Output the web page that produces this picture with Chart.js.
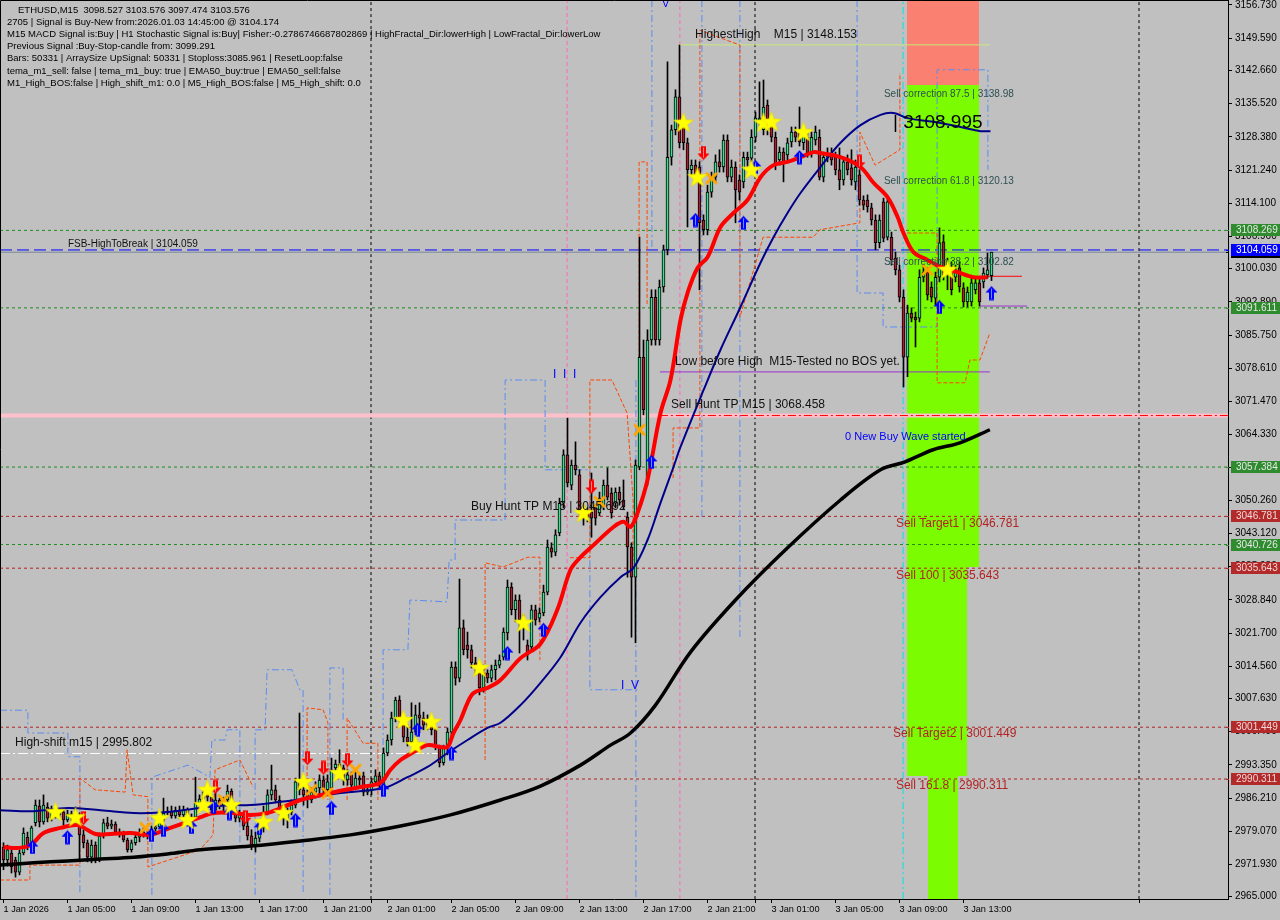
<!DOCTYPE html>
<html><head><meta charset="utf-8">
<script src="https://cdn.jsdelivr.net/npm/chart.js@4.4.1/dist/chart.umd.min.js"></script>
<style>html,body{margin:0;padding:0;background:#C0C0C0;overflow:hidden}canvas{display:block}</style>
</head><body>
<canvas id="c" width="1280" height="920"></canvas>
<script>
// ---------- DATA (ETHUSD M15, bar index 0 = 1 Jan 01:00) ----------
const openP=[
2975.7,2972.9,2974.4,2972.9,2970.3,2974.4,2977.8,2975.9,2980.9,2984.5,
2981.1,2984.3,2981.9,2983.6,2982.6,2983.2,2981.5,2982.8,2981.9,2982.4,
2978.3,2976.6,2973.5,2976.1,2972.9,2978.1,2980.9,2980.2,2980.6,2978.9,
2978.3,2977.2,2975.1,2976.6,2977.8,2978.9,2978.5,2978.1,2979.6,2980.0,
2981.5,2983.0,2983.4,2982.4,2983.6,2982.6,2983.6,2981.9,2982.1,2985.2,
2986.0,2987.3,2986.4,2983.6,2985.8,2984.7,2985.8,2987.7,2983.6,2981.9,
2982.8,2980.2,2978.1,2976.1,2977.6,2979.8,2983.2,2986.9,2988.0,2985.8,
2983.6,2981.9,2983.2,2984.7,2989.7,2988.0,2986.9,2985.8,2987.5,2988.4,
2990.1,2988.0,2988.4,2992.7,2993.5,2992.7,2990.1,2991.2,2988.6,2990.5,
2991.0,2987.5,2988.0,2989.7,2991.0,2988.8,2995.9,2998.7,3003.4,3007.3,
3003.4,2999.3,2998.3,3000.4,3004.1,3003.4,3001.9,3002.6,3000.9,2997.2,
2993.8,2997.0,3000.4,3014.4,3012.0,3022.8,3019.1,3018.1,3015.3,3013.1,
3009.9,3013.1,3012.0,3013.8,3014.8,3016.5,3021.7,3031.6,3026.7,3028.8,
3024.5,3019.1,3018.7,3026.7,3024.9,3026.0,3030.5,3040.0,3039.1,3043.2,
3049.6,3060.0,3053.5,3057.8,3055.7,3048.2,3047.5,3047.7,3048.6,3047.5,
3048.8,3053.5,3051.8,3049.6,3052.0,3050.3,3046.6,3040.2,3033.7,3057.4,
3081.0,3054.6,3084.7,3093.9,3084.7,3096.1,3104.1,3124.0,3129.9,3137.0,
3130.5,3127.1,3121.3,3122.3,3121.9,3110.5,3108.4,3116.5,3119.7,3123.0,
3121.9,3127.7,3119.7,3121.9,3119.1,3118.7,3124.0,3123.8,3128.3,3132.0,
3129.9,3135.2,3130.9,3128.3,3123.4,3125.1,3124.5,3127.3,3129.4,3129.2,
3127.1,3128.3,3124.9,3127.7,3128.3,3119.7,3124.0,3124.9,3124.0,3121.3,
3119.1,3123.0,3121.7,3118.7,3120.2,3114.8,3114.8,3113.1,3110.5,3105.6,
3114.4,3106.8,3106.8,3102.3,3099.8,3093.9,3081.0,3090.5,3089.6,3089.4,
3098.2,3099.3,3096.1,3093.7,3098.2,3105.8,3098.7,3100.2,3098.2,3100.2,
3095.9,3092.9,3092.9,3095.5,3097.0,3097.2,3098.7,3098.527];
const highP=[
2976.6,2976.1,2975.1,2973.5,2975.1,2979.8,2978.9,2980.2,2985.8,2985.8,
2986.9,2985.2,2984.5,2984.1,2983.9,2983.6,2983.6,2983.4,2984.3,2983.0,
2979.4,2977.2,2977.2,2976.8,2978.7,2981.7,2982.1,2981.5,2981.1,2979.6,
2979.1,2977.6,2977.2,2978.5,2979.6,2979.8,2979.4,2980.2,2980.6,2981.9,
2986.2,2984.3,2984.5,2984.3,2984.5,2984.5,2984.1,2982.8,2990.7,2986.9,
2988.4,2988.4,2986.9,2987.3,2986.2,2986.4,2989.0,2988.2,2984.7,2983.6,
2983.2,2981.5,2979.4,2978.9,2980.9,2984.5,2988.0,2993.3,2989.0,2986.7,
2984.7,2984.1,2985.8,2990.5,3004.5,2989.0,2988.0,2988.4,2989.7,2991.2,
2991.0,2991.2,2994.8,2994.4,2996.6,2993.3,2992.3,2991.8,2991.8,2991.2,
2991.8,2988.8,2990.5,2992.3,2991.8,2997.0,2999.8,3004.7,3007.9,3008.2,
3004.1,3002.1,3006.7,3006.2,3006.7,3004.7,3004.1,3003.4,3001.3,2997.6,
2997.6,3001.3,3015.5,3015.5,3033.3,3024.5,3021.9,3019.1,3016.5,3014.2,
3014.8,3013.8,3014.8,3015.9,3017.0,3022.8,3033.1,3032.5,3029.9,3029.9,
3025.6,3020.2,3027.7,3027.7,3027.1,3032.0,3041.7,3041.1,3043.9,3050.7,
3061.1,3067.9,3058.9,3062.8,3056.8,3049.2,3048.6,3056.1,3049.2,3052.0,
3054.6,3057.2,3052.9,3052.9,3053.1,3054.6,3047.7,3041.1,3058.9,3106.8,
3084.7,3086.9,3095.5,3095.5,3097.6,3105.1,3144.5,3130.9,3138.5,3148.1,
3132.0,3128.1,3123.4,3123.4,3123.0,3111.6,3118.0,3120.8,3124.5,3125.6,
3128.8,3128.8,3123.4,3123.0,3120.2,3125.1,3125.1,3129.9,3133.7,3140.2,
3140.6,3136.3,3132.4,3129.4,3126.2,3126.0,3128.1,3130.5,3130.5,3134.8,
3129.9,3129.2,3129.4,3130.7,3129.9,3125.1,3126.0,3126.0,3125.1,3126.0,
3124.0,3124.5,3125.6,3123.4,3121.3,3115.7,3115.9,3114.1,3111.6,3111.6,
3115.2,3115.2,3107.9,3103.6,3100.8,3095.5,3092.2,3091.6,3090.7,3099.8,
3100.8,3100.2,3097.2,3099.3,3108.8,3107.3,3102.3,3101.5,3100.8,3101.5,
3097.0,3096.1,3098.0,3098.0,3098.0,3100.2,3103.4,3103.576];
const lowP=[
2970.8,2971.6,2970.1,2969.2,2969.7,2974.0,2975.1,2975.3,2980.2,2980.0,
2980.6,2981.1,2981.3,2981.9,2981.9,2980.4,2981.1,2981.3,2981.5,2972.9,
2975.5,2972.5,2972.3,2972.3,2972.5,2977.6,2979.6,2979.6,2978.5,2977.8,
2976.8,2974.6,2974.6,2976.1,2976.8,2977.8,2977.4,2977.6,2979.1,2979.6,
2981.1,2982.6,2981.9,2981.9,2981.9,2982.1,2981.3,2981.3,2981.7,2984.5,
2984.3,2985.6,2982.8,2983.2,2983.9,2983.0,2985.2,2982.6,2981.1,2981.1,
2979.4,2977.2,2975.1,2974.6,2976.8,2978.9,2982.6,2985.8,2985.2,2982.6,
2980.4,2979.8,2982.6,2984.1,2986.9,2984.7,2984.1,2985.2,2986.2,2986.9,
2987.3,2986.9,2987.5,2991.8,2991.2,2989.0,2989.0,2988.0,2988.0,2989.0,
2986.7,2986.9,2986.9,2989.0,2988.0,2988.0,2995.3,2997.6,3002.6,3002.6,
2998.3,2997.4,2997.6,2999.8,3000.2,3000.9,3000.9,2999.8,2996.6,2992.9,
2993.3,2995.5,2999.3,3010.5,3011.2,3017.0,3016.3,3014.2,3012.7,3008.4,
3009.0,3011.0,3011.2,3011.6,3014.2,3015.9,3020.2,3025.6,3024.1,3017.4,
3020.2,3015.9,3018.1,3023.4,3024.1,3025.4,3029.9,3038.0,3038.3,3042.6,
3048.6,3053.1,3052.5,3055.7,3047.1,3044.9,3045.6,3042.3,3044.9,3046.9,
3048.2,3050.3,3046.4,3048.6,3049.2,3048.2,3033.7,3020.8,3019.6,3056.8,
3068.6,3053.5,3083.6,3083.6,3083.6,3095.0,3103.0,3122.3,3128.8,3126.0,
3125.6,3109.0,3120.2,3118.7,3095.5,3107.3,3107.3,3115.4,3118.7,3120.8,
3120.8,3118.7,3118.7,3109.9,3114.8,3117.4,3122.1,3123.0,3127.3,3130.9,
3128.8,3128.8,3127.3,3121.3,3122.3,3118.7,3123.4,3126.2,3127.3,3126.4,
3125.6,3124.0,3124.0,3126.6,3119.1,3118.7,3123.0,3122.3,3120.2,3117.0,
3118.0,3120.2,3118.0,3117.0,3113.7,3112.7,3112.2,3109.4,3104.1,3104.5,
3105.8,3106.2,3100.8,3098.7,3092.9,3074.6,3076.8,3088.6,3083.2,3088.6,
3097.2,3093.3,3092.9,3092.2,3097.2,3097.6,3095.5,3094.4,3097.2,3095.0,
3091.8,3091.8,3092.0,3094.6,3092.0,3095.9,3098.0,3097.474];
const closeP=[
2972.9,2975.1,2971.4,2970.3,2974.4,2978.7,2975.9,2979.8,2984.7,2981.1,
2984.7,2981.9,2983.6,2982.6,2983.2,2981.5,2982.8,2981.9,2982.6,2978.3,
2976.6,2973.5,2976.1,2972.9,2978.1,2980.9,2980.2,2980.6,2978.9,2978.3,
2977.2,2975.1,2976.6,2977.8,2978.9,2978.5,2978.1,2979.6,2980.0,2981.5,
2983.0,2983.4,2982.4,2983.6,2982.6,2983.6,2981.9,2982.1,2985.2,2986.0,
2987.5,2986.4,2983.6,2985.8,2984.7,2985.8,2987.7,2983.6,2981.9,2982.8,
2980.2,2978.1,2976.1,2977.6,2979.8,2983.2,2986.9,2988.0,2985.8,2983.6,
2981.9,2983.2,2984.7,2989.7,2988.0,2986.9,2985.8,2987.5,2988.4,2990.1,
2988.0,2989.7,2992.3,2993.5,2992.7,2990.1,2991.2,2989.0,2990.5,2990.1,
2987.5,2988.0,2989.7,2991.0,2989.0,2995.9,2998.7,3003.4,3007.3,3003.4,
2999.3,2998.3,3000.4,3004.1,3003.4,3001.9,3002.6,3000.9,2997.2,2993.8,
2997.0,3000.4,3014.4,3012.0,3022.8,3018.1,3018.1,3015.3,3014.2,3009.9,
3013.1,3012.0,3013.8,3014.8,3015.9,3021.9,3031.6,3026.7,3028.8,3024.5,
3023.4,3017.0,3026.7,3024.5,3026.0,3030.5,3040.2,3039.1,3042.8,3049.6,
3060.0,3054.0,3057.8,3056.8,3047.7,3046.4,3046.6,3046.4,3046.4,3050.7,
3053.5,3050.9,3047.5,3052.0,3050.3,3048.8,3040.2,3033.7,3057.8,3081.0,
3069.7,3084.7,3093.9,3084.7,3096.1,3104.1,3124.0,3129.9,3137.0,3127.1,
3127.1,3121.3,3122.3,3119.7,3109.9,3108.4,3116.5,3119.7,3123.0,3121.9,
3127.7,3119.7,3121.9,3117.0,3116.5,3124.0,3123.4,3128.3,3132.4,3132.4,
3134.8,3129.9,3128.3,3122.3,3125.1,3123.0,3127.1,3129.4,3128.3,3127.3,
3128.8,3124.9,3128.3,3129.4,3119.7,3124.0,3124.9,3123.4,3121.3,3119.1,
3123.0,3121.3,3119.1,3121.9,3114.8,3113.7,3113.3,3110.5,3105.6,3110.5,
3106.6,3114.4,3101.9,3099.8,3093.9,3081.0,3090.5,3089.4,3089.0,3098.2,
3099.3,3094.4,3093.9,3098.2,3105.6,3098.7,3100.8,3095.5,3099.8,3096.1,
3092.9,3095.0,3097.0,3097.0,3092.9,3099.1,3099.8,3103.576];

const timeTickIdx=[0,16,32,48,64,80,96,112,128,144,160,176,192,208,224,240];
const timeLabels=['1 Jan 2026','1 Jan 05:00','1 Jan 09:00','1 Jan 13:00','1 Jan 17:00','1 Jan 21:00',
 '2 Jan 01:00','2 Jan 05:00','2 Jan 09:00','2 Jan 13:00','2 Jan 17:00','2 Jan 21:00',
 '3 Jan 01:00','3 Jan 05:00','3 Jan 09:00','3 Jan 13:00'];
const priceTicks=[3156.730,3149.590,3142.660,3135.520,3128.380,3121.240,3114.100,3106.960,3100.030,
 3092.890,3085.750,3078.610,3071.470,3064.330,3057.190,3050.260,3043.120,3035.980,3028.840,3021.700,
 3014.560,3007.630,3000.490,2993.350,2986.210,2979.070,2971.930,2965.000];

// moving averages: [bar index, price]
const maFast=[[0,2975.7],[3.5,2975.5],[6.75,2976.1],[10,2978.7],[14.25,2979.8],[18.5,2980.4],[23,2978.5],[26.75,2978.5],[31.75,2978.7],[36.75,2978.3],[41,2979.6],[46,2981.1],[49.25,2982.1],[52.5,2983.0],[57.5,2983.0],[61.75,2982.6],[66.75,2983.2],[74.25,2985.8],[81.75,2987.3],[89.25,2988.6],[94.25,2989.5],[96.75,2992.3],[99.25,2994.4],[102.5,2996.1],[106,2997.6],[109.25,2997.2],[111,2997.2],[112.5,3000.2],[114.25,3003.0],[116,3006.7],[117.5,3008.8],[121,3009.9],[124.25,3011.6],[129.25,3016.3],[134.25,3019.4],[138.5,3026.8],[141.75,3035.3],[144.25,3038.0],[147.5,3040.6],[152.5,3044.5],[155,3045.6],[156.75,3044.5],[158.5,3047.5],[161,3054.6],[164.25,3069.0],[166.75,3076.1],[169.25,3089.0],[171,3094.8],[173.5,3100.2],[176,3102.5],[179.25,3109.0],[182.5,3112.0],[186,3114.8],[189.25,3119.7],[192.5,3122.3],[196,3123.0],[199.25,3124.0],[202.5,3125.1],[204.25,3124.9],[209.25,3124.0],[214.25,3121.9],[217.5,3118.5],[221,3115.4],[223.5,3111.2],[225,3107.7],[227.5,3103.6],[231,3101.9],[234.25,3100.4],[238.5,3099.3],[242.5,3098.2],[246,3098.2]];
const ma50=[[-0.875,2983.6],[7.5,2983.4],[16,2984.1],[24.25,2983.6],[32.5,2983.0],[36.75,2983.0],[41,2983.2],[49.25,2984.1],[57.5,2984.7],[61.75,2984.7],[69.25,2985.4],[76,2986.2],[84.25,2987.3],[92.5,2988.0],[96,2988.6],[101,2990.7],[106,2992.9],[111,2995.9],[116,2998.7],[121,3001.3],[124.25,3002.4],[129.25,3006.2],[134.25,3011.0],[139.25,3016.5],[144.25,3023.9],[149.25,3029.4],[154.25,3033.7],[157.5,3035.7],[161,3041.7],[164.25,3049.7],[167.5,3057.4],[169.25,3061.7],[175,3073.9],[179.25,3082.6],[184.25,3091.8],[189.25,3101.3],[192.5,3106.8],[196,3112.0],[199.25,3116.3],[204.25,3121.9],[209.25,3127.1],[214.25,3130.9],[219.25,3133.1],[222.5,3133.5],[226,3132.4],[232.5,3131.6],[239.25,3130.5],[244.25,3129.6],[246.75,3129.6]];
const ma200=[[-0.875,2971.8],[7.5,2972.3],[16,2972.7],[24.25,2973.1],[32.5,2973.5],[41,2974.2],[49.25,2975.1],[61.75,2975.9],[74.25,2977.0],[86.75,2978.3],[99.25,2980.2],[111.75,2982.6],[124.25,2985.8],[134.25,2988.8],[144.25,2993.3],[151.75,2997.6],[156.75,3000.2],[163,3006.2],[171.75,3017.6],[183,3028.8],[195.5,3039.6],[209.25,3050.3],[219.25,3056.8],[225.4,3058.5],[232.4,3061.1],[239.1,3062.6],[246.6,3065.4]];

// fractal channel step lines (segments) [bar index, price]
const blueSteps=[
 [[-0.875,3005.1],[6.1,3005.1],[6.1,3000.2],[16.1,3000.2],[16.1,2995.1],[19.1,2995.1],[19.1,2965.4]],
 [[37.1,2965.4],[37.1,2990.7],[46.1,2993.3],[51.6,2990.7],[52.1,2998.7],[55.4,2998.7],[55.9,3000.9],[59.1,3000.9],[59.1,2975.1]],
 [[62.9,2965.4],[62.9,3000.9],[65.4,3000.9],[65.9,3013.8],[72.1,3013.8],[74.1,3009.5],[74.9,3009.5],[74.9,2965.4]],
 [[81.6,2965.4],[81.6,3014.2],[84.9,3014.2],[84.9,3003.0]],
 [[94.9,2994.4],[94.9,3018.1],[101.1,3018.1],[101.6,3028.8],[110.9,3028.4],[111.4,3037.4],[112.9,3037.4],[112.9,3046.0],[125.4,3046.0],[125.4,3076.1],[135.4,3076.1],[135.4,3056.8],[146.6,3056.8],[146.6,3009.5],[159.1,3009.5]],
 [[158.1,3076.1],[158.1,2964.5]],
 [[162.1,3157.8],[162.1,3104.1]],
 [[174.6,3157.8],[174.6,3046.0]],
 [[184.1,3157.8],[184.1,3020.2]],
 [[213.4,3157.8],[213.4,3094.8],[219.9,3094.8],[219.9,3087.5],[233.4,3087.5],[233.4,3142.8],[246.1,3142.8],[246.1,3121.3]]];
const orangeSteps=[
 [[-0.875,2968.6],[6.6,2968.6],[6.6,2971.8],[19.1,2971.8],[19.1,2990.5],[22.9,2988.0],[30.4,2987.5],[30.9,2996.6],[32.4,2986.9],[36.1,2986.5],[36.1,2971.4],[49.1,2975.1],[52.4,2978.3],[52.9,2992.3],[59.1,2994.4],[62.4,2988.6]],
 [[75.9,2985.8],[75.9,3005.6],[79.9,3005.2],[81.1,3002.4],[81.1,2985.8]],
 [[85.9,2985.8],[85.9,3003.4],[89.9,2998.0],[93.6,2998.0],[93.6,2985.8]],
 [[120.4,2994.4],[120.4,3036.8],[124.9,3035.9],[131.1,3038.0],[134.1,3038.0],[134.1,3015.9]],
 [[141.6,3037.9],[146.6,3037.9],[146.6,3076.1],[152.1,3076.1],[155.9,3069.0],[157.4,3050.3],[157.4,3037.4]],
 [[158.9,3065.4],[158.9,3123.0],[160.9,3123.0],[160.9,3092.0]],
 [[167.4,3055.0],[167.4,3065.8],[174.1,3065.8],[174.1,3151.3],[184.1,3148.1],[184.1,3089.6],[189.9,3106.8],[202.4,3106.8],[204.1,3108.4],[214.1,3109.9],[214.1,3129.4],[217.9,3122.3],[224.1,3125.6],[224.1,3142.1]],
 [[225.9,3107.7],[233.4,3107.7],[233.4,3075.5],[240.4,3075.5],[241.6,3080.4],[244.1,3080.4],[246.6,3086.2]]];

// signal markers [bar index, price]
const starPts=[[13,2983.2],[18,2982.1],[39,2981.9],[46,2981.5],[50,2984.7],[51,2988.0],[57,2984.7],[65,2981.1],[70,2983.0],[75,2989.7],[84,2991.6],[100,3003.0],[103,2997.6],[107,3002.6],[119,3014.2],[130,3023.9],[145,3047.5],[170,3131.4],[173.5,3119.7],[187,3121.3],[190,3131.4],[192,3131.6],[200,3129.4],[236,3099.8]];
const upArrowPts=[[7.25,2975.7],[16,2977.8],[37,2978.3],[40,2979.4],[47,2980.0],[52.5,2984.3],[56.5,2983.0],[64,2979.8],[73,2981.5],[82,2984.1],[95,2988.0],[103.5,3000.9],[112,2995.9],[126,3017.4],[135,3022.4],[162,3058.5],[173,3110.5],[185,3109.9],[188,3121.9],[199,3124.0],[234,3091.8],[247,3094.8]];
const downArrowPts=[[20,2981.9],[53,2988.6],[60.5,2982.1],[76,2994.8],[80,2992.7],[86,2994.4],[147,3053.1],[175,3124.9],[214,3123.0]];
const crossPts=[[35.5,2979.8],[55,2985.8],[77,2988.0],[81,2987.3],[88,2992.3],[149,3049.9],[159,3065.4],[177,3119.5],[231,3099.8]];

// horizontal levels
const greenLevels=[3108.269,3091.611,3057.384,3040.726];
const redLevels=[3046.781,3035.643,3001.449,2990.311];
const fsbLevel=3104.059, bidLevel=3103.576, sellHuntLevel=3068.458, highShiftLevel=2995.802;
const lowBeforeHigh=3077.84, highestHigh=3148.153;
const daySeparators=[91.875,187.875,283.875];

// zones [x0,x1,p0,p1]
const salmonZone=[[225.9,243.9,3157.8,3139.5]];
const limeZones=[[225.9,243.9,3139.5,3035.9],[225.9,240.9,3035.9,2991.0],[231.1,238.6,2991.0,2964.5]];

const infoLines=['ETHUSD,M15  3098.527 3103.576 3097.474 3103.576',
'2705 | Signal is Buy-New from:2026.01.03 14:45:00 @ 3104.174',
'M15 MACD Signal is:Buy | H1 Stochastic Signal is:Buy| Fisher:-0.2786746687802869 | HighFractal_Dir:lowerHigh | LowFractal_Dir:lowerLow',
'Previous Signal :Buy-Stop-candle from: 3099.291',
'Bars: 50331 | ArraySize UpSignal: 50331 | Stoploss:3085.961 | ResetLoop:false',
'tema_m1_sell: false | tema_m1_buy: true | EMA50_buy:true | EMA50_sell:false',
'M1_High_BOS:false | High_shift_m1: 0.0 | M5_High_BOS:false | M5_High_shift: 0.0'];

const chartTexts=[
 {i:172.9,p:3150.3,t:'HighestHigh    M15 | 3148.153',c:'#111',s:12},
 {i:167.9,p:3080.0,t:'Low before High  M15-Tested no BOS yet.',c:'#111',s:12},
 {i:166.9,p:3070.7,t:'Sell Hunt TP M15 | 3068.458',c:'#111',s:12},
 {i:116.9,p:3048.8,t:'Buy Hunt TP M15 | 3045.692',c:'#111',s:12},
 {i:16.1,p:3105.3,t:'FSB-HighToBreak | 3104.059',c:'#111',s:10},
 {i:2.9,p:2998.1,t:'High-shift m15 | 2995.802',c:'#111',s:12},
 {i:220.1,p:3137.6,t:'Sell correction 87.5 | 3138.98',c:'#2F4F4F',s:10},
 {i:220.1,p:3118.9,t:'Sell correction 61.8 | 3120.13',c:'#2F4F4F',s:10},
 {i:220.1,p:3101.5,t:'Sell correction 38.2 | 3102.82',c:'#2F4F4F',s:10},
 {i:222.4,p:3131.4,t:'| 3108.995',c:'#000',s:19},
 {i:210.4,p:3063.8,t:'0 New Buy Wave started',c:'#0000FF',s:11},
 {i:223.1,p:3045.3,t:'Sell Target1 | 3046.781',c:'#B22222',s:12},
 {i:223.1,p:3034.0,t:'Sell 100 | 3035.643',c:'#B22222',s:12},
 {i:222.4,p:3000.0,t:'Sell Target2 | 3001.449',c:'#B22222',s:12},
 {i:223.1,p:2988.8,t:'Sell 161.8 | 2990.311',c:'#B22222',s:12},
 {i:137.4,p:3077.2,t:'I  I  I',c:'#0000FF',s:12},
 {i:154.4,p:3010.3,t:'I  V',c:'#0000FF',s:12},
 {i:164.6,p:3157.0,t:'V',c:'#0000FF',s:11}];

const axisBoxes=[
 {p:bidLevel,bg:'#000000',fg:'#FFFFFF'},
 {p:3108.269,bg:'#2E8B2E',fg:'#E8E8E8'},
 {p:fsbLevel,bg:'#0000FF',fg:'#FFFFFF'},
 {p:3091.611,bg:'#2E8B2E',fg:'#E8E8E8'},
 {p:3057.384,bg:'#2E8B2E',fg:'#E8E8E8'},
 {p:3046.781,bg:'#B22A2A',fg:'#F0D8D8'},
 {p:3040.726,bg:'#2E8B2E',fg:'#E8E8E8'},
 {p:3035.643,bg:'#B22A2A',fg:'#F0D8D8'},
 {p:3001.449,bg:'#B22A2A',fg:'#F0D8D8'},
 {p:2990.311,bg:'#B22A2A',fg:'#F0D8D8'}];

// ---------- marker images ----------
function mk(w,h,fn){const c=document.createElement('canvas');c.width=w;c.height=h;fn(c.getContext('2d'));return c;}
const starImg=mk(22,22,g=>{g.beginPath();for(let k=0;k<10;k++){const r=k%2?4.2:10.5,a=-Math.PI/2+k*Math.PI/5;g.lineTo(11+r*Math.cos(a),11.5+r*Math.sin(a));}g.closePath();g.fillStyle='#FFFF00';g.fill();g.strokeStyle='#E8D800';g.lineWidth=0.6;g.stroke();});
const upImg=mk(13,15,g=>{g.beginPath();g.moveTo(6.5,0.5);g.lineTo(12.5,7);g.lineTo(9,7);g.lineTo(9,14.5);g.lineTo(4,14.5);g.lineTo(4,7);g.lineTo(0.5,7);g.closePath();g.fillStyle='#0000FF';g.fill();g.strokeStyle='#6A8CFF';g.lineWidth=1;g.beginPath();g.moveTo(6.5,3);g.lineTo(6.5,13);g.stroke();});
const downImg=mk(13,15,g=>{g.beginPath();g.moveTo(6.5,14.5);g.lineTo(12.5,8);g.lineTo(9,8);g.lineTo(9,0.5);g.lineTo(4,0.5);g.lineTo(4,8);g.lineTo(0.5,8);g.closePath();g.fillStyle='#FF0000';g.fill();g.strokeStyle='#FF8080';g.lineWidth=1;g.beginPath();g.moveTo(6.5,2);g.lineTo(6.5,12);g.stroke();});
const crossImg=mk(13,13,g=>{g.strokeStyle='#FFA500';g.lineWidth=3;g.lineCap='round';g.beginPath();g.moveTo(2,2);g.lineTo(11,11);g.moveTo(11,2);g.lineTo(2,11);g.stroke();});

// ---------- datasets ----------
const N=closeP.length;
const idx=[...Array(N).keys()];
const wickData=idx.map(i=>({x:i,y:[lowP[i],highP[i]]}));
const bodyData=idx.map(i=>({x:i,y:[Math.min(openP[i],closeP[i]),Math.max(openP[i],closeP[i])]}));
const bodyColors=idx.map(i=>closeP[i]>=openP[i]?'#3EE08E':'#A8202E');
const pts=a=>a.map(([x,y])=>({x,y}));
const segs=s=>{const out=[];s.forEach((seg,k)=>{if(k)out.push({x:seg[0][0],y:null});seg.forEach(([x,y])=>out.push({x,y}));});return out;};
const X0=-0.875,X1=306.125;
const hLine=(p,color,dash,w,a,b,order)=>({type:'line',data:[{x:a??X0,y:p},{x:b??X1,y:p}],borderColor:color,borderDash:dash,borderWidth:w,pointRadius:0,order:order??60});
const vLine=(i,color,dash,w,p0,p1)=>({type:'line',data:[{x:i,y:p0??2964.5},{x:i,y:p1??3157.8}],borderColor:color,borderDash:dash,borderWidth:w,pointRadius:0,order:62});

const datasets=[];
greenLevels.forEach(p=>datasets.push(hLine(p,'#1E8C1E',[3,3],1)));
redLevels.forEach(p=>datasets.push(hLine(p,'#B22222',[3,3],1)));
datasets.push(hLine(sellHuntLevel,'#FFC0CB',[],4,X0,X1,61));
datasets.push(hLine(sellHuntLevel,'#FF0000',[8,3,2,3],1,164.1,X1,59));
datasets.push(hLine(highShiftLevel,'#FFFFFF',[10,3,2,3],1,X0,112.9));
datasets.push(hLine(bidLevel,'#778899',[],1));
datasets.push(hLine(fsbLevel,'#0000FF',[12,5],1));
datasets.push(hLine(lowBeforeHigh,'#9932CC',[],1,164.1,246.6));
datasets.push(hLine(highestHigh,'#C8E87A',[],1,169.1,246.6));
datasets.push(hLine(3098.4,'#FF0000',[],1,245.9,254.6));
datasets.push(hLine(3092.0,'#9932CC',[],1,244.1,255.9));
daySeparators.forEach(i=>datasets.push(vLine(i,'#000000',[3,3],1)));
datasets.push(vLine(140.9,'#FF69B4',[4,3],1));
datasets.push(vLine(169.1,'#FF69B4',[4,3],1));
datasets.push(vLine(224.9,'#00E5E5',[7,3,2,3],1));
datasets.push({type:'line',data:segs(blueSteps),borderColor:'#5A8CF0',borderDash:[7,3,2,3],borderWidth:1,pointRadius:0,spanGaps:false,order:55});
datasets.push({type:'line',data:segs(orangeSteps),borderColor:'#FF4500',borderDash:[4,2],borderWidth:1,pointRadius:0,spanGaps:false,order:54});
datasets.push({type:'bar',data:wickData,backgroundColor:'#000',borderWidth:0,grouped:false,barThickness:1,maxBarThickness:1,order:41});
datasets.push({type:'bar',data:bodyData,backgroundColor:bodyColors,borderColor:'#000',borderWidth:1,borderSkipped:false,grouped:false,barThickness:3,maxBarThickness:3,minBarLength:1,order:40});
datasets.push({type:'line',data:pts(ma200),borderColor:'#000000',borderWidth:3.5,pointRadius:0,tension:0.35,order:22});
datasets.push({type:'line',data:pts(ma50),borderColor:'#00008B',borderWidth:2,pointRadius:0,tension:0.35,order:21});
datasets.push({type:'line',data:pts(maFast),borderColor:'#FF0000',borderWidth:4,pointRadius:0,tension:0.35,order:20});
[[starPts,starImg],[upArrowPts,upImg],[downArrowPts,downImg],[crossPts,crossImg]].forEach(([a,img],k)=>{
 datasets.push({type:'line',data:pts(a),showLine:false,pointStyle:img,pointRadius:8,order:10+k});});

// ---------- plugin ----------
const mt4={id:'mt4',
 beforeDraw(ch){const g=ch.ctx;g.save();g.fillStyle='#C0C0C0';g.fillRect(0,0,ch.width,ch.height);g.restore();},
 beforeDatasetsDraw(ch){const g=ch.ctx,xs=ch.scales.x,ys=ch.scales.y;g.save();
  const rect=(z,col)=>{const x0=xs.getPixelForValue(z[0]),x1=xs.getPixelForValue(z[1]),y0=ys.getPixelForValue(z[2]),y1=ys.getPixelForValue(z[3]);g.fillStyle=col;g.fillRect(Math.round(x0),Math.round(y0),Math.round(x1)-Math.round(x0),Math.round(y1)-Math.round(y0));};
  salmonZone.forEach(z=>rect(z,'#FA8072'));limeZones.forEach(z=>rect(z,'#7CFC00'));g.restore();},
 afterDatasetsDraw(ch){const g=ch.ctx,xs=ch.scales.x,ys=ch.scales.y;g.save();g.textBaseline='middle';g.textAlign='left';
  chartTexts.forEach(o=>{g.font=o.s+'px "Liberation Sans", Arial, sans-serif';g.fillStyle=o.c;g.fillText(o.t,xs.getPixelForValue(o.i),ys.getPixelForValue(o.p));});
  g.font='9.5px "Liberation Sans", Arial, sans-serif';g.fillStyle='#000';
  infoLines.forEach((t,k)=>g.fillText(t,k?7:18,10+k*12.2));
  g.restore();},
 afterDraw(ch){const g=ch.ctx,xs=ch.scales.x,ys=ch.scales.y,a=ch.chartArea;g.save();
  g.strokeStyle='#000';g.lineWidth=1;g.beginPath();g.moveTo(0.5,a.bottom);g.lineTo(0.5,0.5);g.lineTo(a.right,0.5);g.stroke();
  g.beginPath();daySeparators.forEach(i=>{const x=Math.round(xs.getPixelForValue(i))+0.5;g.moveTo(x,a.bottom);g.lineTo(x,a.bottom+4);});g.stroke();
  g.font='10px "Liberation Sans", Arial, sans-serif';g.textBaseline='middle';g.textAlign='left';
  axisBoxes.forEach(b=>{const y=Math.round(ys.getPixelForValue(b.p));g.fillStyle=b.bg;g.fillRect(a.right+3,y-6,49,12);g.fillRect(a.right-2,y,3,1);g.fillStyle=b.fg;g.fillText(b.p.toFixed(3),a.right+8,y+0.5);});
  g.restore();}};

Chart.defaults.font.family='"Liberation Sans", Arial, sans-serif';
new Chart(document.getElementById('c'),{
 type:'bar',data:{datasets},plugins:[mt4],
 options:{responsive:false,animation:false,devicePixelRatio:1,layout:{padding:0,autoPadding:false},
  plugins:{legend:{display:false},tooltip:{enabled:false}},
  scales:{
   x:{type:'linear',min:X0,max:X1,offset:false,position:'bottom',
    grid:{display:true,drawOnChartArea:false,drawTicks:true,tickLength:4,color:'#000',offset:false},
    border:{display:true,color:'#000',width:1},
    ticks:{autoSkip:false,maxRotation:0,align:'start',padding:1,color:'#000',font:{size:9.2},callback:(v,k)=>timeLabels[k]},
    afterBuildTicks:s=>{s.ticks=timeTickIdx.map(v=>({value:v}));},
    afterFit:s=>{s.height=21;s.paddingLeft=0;s.paddingRight=0;}},
   y:{type:'linear',min:2964.515,max:3157.8,position:'right',beginAtZero:false,
    grid:{display:true,drawOnChartArea:false,drawTicks:true,tickLength:4,color:'#000'},
    border:{display:true,color:'#000',width:1},
    ticks:{padding:3,color:'#000',font:{size:10},callback:v=>Number(v).toFixed(3)},
    afterBuildTicks:s=>{s.ticks=priceTicks.map(v=>({value:v}));},
    afterFit:s=>{s.width=52;s.paddingTop=0;s.paddingBottom=0;}}
  }}});
</script>
</body></html>
